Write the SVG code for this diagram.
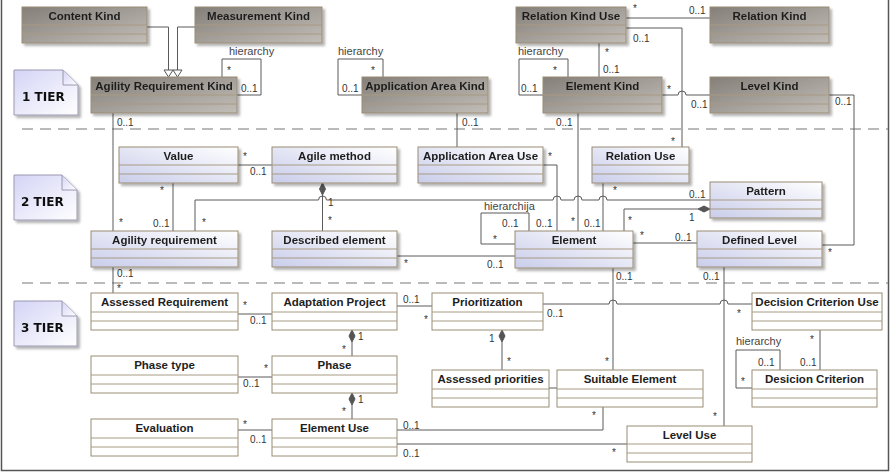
<svg xmlns="http://www.w3.org/2000/svg" width="891" height="472" viewBox="0 0 891 472">
<defs>
<linearGradient id="g1" x1="0" y1="0" x2="1" y2="1">
<stop offset="0" stop-color="#857f79"/><stop offset="1" stop-color="#c2bdb7"/>
</linearGradient>
<linearGradient id="g2" x1="0" y1="1" x2="1" y2="0">
<stop offset="0" stop-color="#c9cdea"/><stop offset="1" stop-color="#ffffff"/>
</linearGradient>
<linearGradient id="gn" x1="0" y1="0" x2="1" y2="1">
<stop offset="0" stop-color="#d4d4f6"/><stop offset="1" stop-color="#ffffff"/>
</linearGradient>
<filter id="sh" x="-10%" y="-10%" width="130%" height="140%">
<feDropShadow dx="2.5" dy="2.5" stdDeviation="1.2" flood-color="#000" flood-opacity="0.3"/>
</filter>
</defs>
<style>
.cls rect{stroke:#9a8c74;stroke-width:1}
.t1 rect{fill:url(#g1)}
.t2 rect{fill:url(#g2)}
.t3 rect{fill:#fff}
.t1,.t2,.note{filter:url(#sh)}
.cls path{stroke:#a89a84;stroke-width:1;fill:none}
.cls text{font-family:"Liberation Sans",Arial,sans-serif;font-weight:bold;font-size:11.5px;fill:#1e1e1e;text-anchor:middle}
.note path{fill:url(#gn);stroke:#9a98b0;stroke-width:1}
.note text{font-family:"DejaVu Sans",sans-serif;font-weight:bold;font-size:12px;fill:#111}
.con path{fill:none;stroke:#5a5a5a;stroke-width:1}
.con .dia{fill:#555;stroke:#555}
.con .tri{fill:#fff;stroke:#555}
.lbl text{font-family:"Liberation Sans",Arial,sans-serif;font-size:10px;fill:#333}
.lbl .h{font-size:11px;fill:#444}
.sep{stroke:#777;stroke-width:1.2;stroke-dasharray:11 7;fill:none}
</style>
<rect x="0" y="0" width="891" height="472" fill="#fff"/>
<path d="M1.5,0 V470.5 H888.5 V0" fill="none" stroke="#555" stroke-width="1.5"/>

<!-- separators -->
<path class="sep" d="M22,129 H888 M22,283 H888"/>

<!-- tier notes -->
<g id="tier1" class="note"><path d="M14,70 H63 L78,85 V115 H14 Z"/><path d="M63,70 V85 H78"/><text x="22" y="101">1 TIER</text></g>
<g id="tier2" class="note"><path d="M14,175 H62 L77,190 V220 H14 Z"/><path d="M62,175 V190 H77"/><text x="21" y="206">2 TIER</text></g>
<g id="tier3" class="note"><path d="M14,301 H62 L77,316 V346 H14 Z"/><path d="M62,301 V316 H77"/><text x="21" y="332">3 TIER</text></g>

<!-- connectors -->
<g id="connectors" class="con">
<!-- generalizations -->
<path d="M147,27 H168.5 V70 M195,27 H177.5 V70"/>
<path class="tri" d="M164,70 H173 L168.5,77 Z M173,70 H182 L177.5,77 Z"/>
<!-- self loops tier 1 -->
<path d="M222,77 V59 H261 V95 H237"/>
<path d="M383,77 V59 H338 V95 H362"/>
<path d="M568,77 V59 H519 V95 H543"/>
<!-- tier 1 links -->
<path d="M113,113 V293"/>
<path d="M457,113 V147"/>
<path d="M578,113 V231"/>
<path d="M599,43 V77"/>
<path d="M626,18 H710"/>
<path d="M626,28 H682 V147"/>
<path d="M662,95 H678 A4,4 0 0 1 686,95 H710"/>
<path d="M829,95 H854 V245 H822"/>
<!-- tier 2 links -->
<path d="M238,165 H272"/>
<path d="M173,183 V231"/>
<path d="M543,165 H557 V231"/>
<path d="M603,183 V231"/>
<path d="M195,231 V200 H318.5 A4,4 0 0 1 326.5,200 H553 A4,4 0 0 1 561,200 H574 A4,4 0 0 1 582,200 H599 A4,4 0 0 1 607,200 H710"/>
<path d="M322.5,195 V231"/>
<path class="dia" d="M322.5,183 L325.5,189 L322.5,195 L319.5,189 Z"/>
<path d="M624,231 V209 H698"/>
<path class="dia" d="M710,209 L704,206 L698,209 L704,212 Z"/>
<path d="M529,231 V213 H481 V244 H515"/>
<path d="M633,243 H697"/>
<path d="M397,256 H515"/>
<path d="M613,268 V370"/>
<path d="M724,267 V426"/>
<!-- tier 3 links -->
<path d="M238,314 H272"/>
<path d="M397,306 H432"/>
<path d="M543,304 H609 A4,4 0 0 1 617,304 H720 A4,4 0 0 1 728,304 H752"/>
<path d="M352,342 V356"/>
<path class="dia" d="M352,330 L355,336 L352,342 L349,336 Z"/>
<path d="M238,377 H272"/>
<path d="M352,405 V419"/>
<path class="dia" d="M352,393 L355,399 L352,405 L349,399 Z"/>
<path d="M238,430 H272"/>
<path d="M502,342 V370"/>
<path class="dia" d="M502,330 L505,336 L502,342 L499,336 Z"/>
<path d="M549,388 H557"/>
<path d="M397,430 H603 V407"/>
<path d="M397,444 H627"/>
<path d="M820,330 V370"/>
<path d="M780,370 V350 H736 V388 H752"/>
</g>

<!-- labels -->
<g id="labels" class="lbl">
<text class="h" x="229" y="55">hierarchy</text>
<text x="227" y="74">*</text>
<text x="241" y="92">0..1</text>
<text x="117" y="126">0..1</text>
<text class="h" x="338" y="55">hierarchy</text>
<text x="371" y="74">*</text>
<text x="342" y="92">0..1</text>
<text x="462" y="126">0..1</text>
<text class="h" x="518" y="55">hierarchy</text>
<text x="553" y="74">*</text>
<text x="521" y="92">0..1</text>
<text x="556" y="126">0..1</text>
<text x="633" y="12">*</text>
<text x="689" y="14">0..1</text>
<text x="633" y="42">0..1</text>
<text x="605" y="56">*</text>
<text x="603" y="73">0..1</text>
<text x="667" y="93">*</text>
<text x="691" y="108">0..1</text>
<text x="835" y="105">0..1</text>
<text x="671" y="145">*</text>
<text x="243" y="160">*</text>
<text x="250" y="175">0..1</text>
<text x="160" y="194">*</text>
<text x="119" y="226">*</text>
<text x="153" y="227">0..1</text>
<text x="202" y="226">*</text>
<text x="117" y="277">0..1</text>
<text x="117" y="292">*</text>
<text x="548" y="160">*</text>
<text x="328" y="206">1</text>
<text x="328" y="224">*</text>
<text class="h" x="484" y="210">hierarchija</text>
<text x="502" y="227">0..1</text>
<text x="536" y="227">0..1</text>
<text x="493" y="243">*</text>
<text x="571" y="225">*</text>
<text x="584" y="227">0..1</text>
<text x="404" y="267">*</text>
<text x="487" y="268">0..1</text>
<text x="613" y="194">*</text>
<text x="689" y="198">0..1</text>
<text x="689" y="221">1</text>
<text x="628" y="224">*</text>
<text x="640" y="239">*</text>
<text x="675" y="241">0..1</text>
<text x="828" y="256">*</text>
<text x="616" y="280">0..1</text>
<text x="703" y="280">0..1</text>
<text x="243" y="309">*</text>
<text x="250" y="324">0..1</text>
<text x="264" y="372">*</text>
<text x="243" y="387">0..1</text>
<text x="243" y="428">*</text>
<text x="250" y="443">0..1</text>
<text x="403" y="303">0..1</text>
<text x="424" y="323">*</text>
<text x="547" y="317">0..1</text>
<text x="358" y="340">1</text>
<text x="342" y="353">*</text>
<text x="489" y="342">1</text>
<text x="507" y="365">*</text>
<text x="358" y="403">1</text>
<text x="342" y="415">*</text>
<text x="557" y="385">*</text>
<text x="563" y="402">0..1</text>
<text x="403" y="429">0..1</text>
<text x="403" y="457">0..1</text>
<text x="592" y="419">*</text>
<text x="737" y="317">*</text>
<text x="810" y="343">*</text>
<text class="h" x="736" y="345">hierarchy</text>
<text x="758" y="366">0..1</text>
<text x="800" y="366">0..1</text>
<text x="741" y="385">*</text>
<text x="605" y="365">*</text>
<text x="713" y="420">*</text>
<text x="612" y="456">*</text>
</g>

<!-- tier 1 classes -->
<g id="content-kind" class="cls t1"><rect x="22" y="7" width="125" height="36"/><path d="M22,25 h125 M22,34 h125"/><text x="84.5" y="20">Content Kind</text></g>
<g id="measurement-kind" class="cls t1"><rect x="195" y="7" width="127" height="36"/><path d="M195,25 h127 M195,34 h127"/><text x="258.5" y="20">Measurement Kind</text></g>
<g id="agility-requirement-kind" class="cls t1"><rect x="91" y="77" width="146" height="36"/><path d="M91,95 h146 M91,104 h146"/><text x="164" y="90">Agility Requirement Kind</text></g>
<g id="application-area-kind" class="cls t1"><rect x="362" y="77" width="126" height="36"/><path d="M362,95 h126 M362,104 h126"/><text x="425" y="90">Application Area Kind</text></g>
<g id="element-kind" class="cls t1"><rect x="543" y="77" width="119" height="36"/><path d="M543,95 h119 M543,104 h119"/><text x="602.5" y="90">Element Kind</text></g>
<g id="relation-kind-use" class="cls t1"><rect x="516" y="7" width="110" height="36"/><path d="M516,25 h110 M516,34 h110"/><text x="571" y="20">Relation Kind Use</text></g>
<g id="relation-kind" class="cls t1"><rect x="710" y="7" width="119" height="36"/><path d="M710,25 h119 M710,34 h119"/><text x="769.5" y="20">Relation Kind</text></g>
<g id="level-kind" class="cls t1"><rect x="710" y="77" width="119" height="36"/><path d="M710,95 h119 M710,104 h119"/><text x="769.5" y="90">Level Kind</text></g>

<!-- tier 2 classes -->
<g id="value" class="cls t2"><rect x="119" y="147" width="119" height="36"/><path d="M119,165 h119 M119,174 h119"/><text x="178.5" y="160">Value</text></g>
<g id="agile-method" class="cls t2"><rect x="272" y="147" width="125" height="36"/><path d="M272,165 h125 M272,174 h125"/><text x="334.5" y="160">Agile method</text></g>
<g id="application-area-use" class="cls t2"><rect x="418" y="147" width="125" height="36"/><path d="M418,165 h125 M418,174 h125"/><text x="480.5" y="160">Application Area Use</text></g>
<g id="relation-use" class="cls t2"><rect x="592" y="147" width="97" height="36"/><path d="M592,165 h97 M592,174 h97"/><text x="640.5" y="160">Relation Use</text></g>
<g id="pattern" class="cls t2"><rect x="710" y="182" width="112" height="36"/><path d="M710,200 h112 M710,209 h112"/><text x="766" y="195">Pattern</text></g>
<g id="agility-requirement" class="cls t2"><rect x="91" y="231" width="147" height="36"/><path d="M91,249 h147 M91,258 h147"/><text x="164.5" y="244">Agility requirement</text></g>
<g id="described-element" class="cls t2"><rect x="272" y="231" width="125" height="36"/><path d="M272,249 h125 M272,258 h125"/><text x="334.5" y="244">Described element</text></g>
<g id="element" class="cls t2"><rect x="515" y="231" width="118" height="37"/><path d="M515,249 h118 M515,258 h118"/><text x="574" y="244">Element</text></g>
<g id="defined-level" class="cls t2"><rect x="697" y="231" width="125" height="36"/><path d="M697,249 h125 M697,258 h125"/><text x="759.5" y="244">Defined Level</text></g>

<!-- tier 3 classes -->
<g id="assessed-requirement" class="cls t3"><rect x="91" y="293" width="147" height="37"/><path d="M91,312 h147 M91,321 h147"/><text x="164.5" y="306">Assessed Requirement</text></g>
<g id="adaptation-project" class="cls t3"><rect x="272" y="293" width="125" height="37"/><path d="M272,312 h125 M272,321 h125"/><text x="334.5" y="306">Adaptation Project</text></g>
<g id="prioritization" class="cls t3"><rect x="432" y="293" width="111" height="37"/><path d="M432,312 h111 M432,321 h111"/><text x="487.5" y="306">Prioritization</text></g>
<g id="decision-criterion-use" class="cls t3"><rect x="752" y="293" width="130" height="37"/><path d="M752,312 h130 M752,321 h130"/><text x="817" y="306">Decision Criterion Use</text></g>
<g id="phase-type" class="cls t3"><rect x="91" y="356" width="147" height="37"/><path d="M91,375 h147 M91,384 h147"/><text x="164.5" y="369">Phase type</text></g>
<g id="phase" class="cls t3"><rect x="272" y="356" width="125" height="37"/><path d="M272,375 h125 M272,384 h125"/><text x="334.5" y="369">Phase</text></g>
<g id="assessed-priorities" class="cls t3"><rect x="432" y="370" width="117" height="37"/><path d="M432,389 h117 M432,398 h117"/><text x="490.5" y="383">Assessed priorities</text></g>
<g id="suitable-element" class="cls t3"><rect x="557" y="370" width="146" height="37"/><path d="M557,389 h146 M557,398 h146"/><text x="630" y="383">Suitable Element</text></g>
<g id="desicion-criterion" class="cls t3"><rect x="752" y="370" width="125" height="37"/><path d="M752,389 h125 M752,398 h125"/><text x="814.5" y="383">Desicion Criterion</text></g>
<g id="evaluation" class="cls t3"><rect x="91" y="419" width="147" height="37"/><path d="M91,438 h147 M91,447 h147"/><text x="164.5" y="432">Evaluation</text></g>
<g id="element-use" class="cls t3"><rect x="272" y="419" width="125" height="37"/><path d="M272,438 h125 M272,447 h125"/><text x="334.5" y="432">Element Use</text></g>
<g id="level-use" class="cls t3"><rect x="627" y="426" width="125" height="36"/><path d="M627,444 h125 M627,453 h125"/><text x="689.5" y="439">Level Use</text></g>
</svg>
